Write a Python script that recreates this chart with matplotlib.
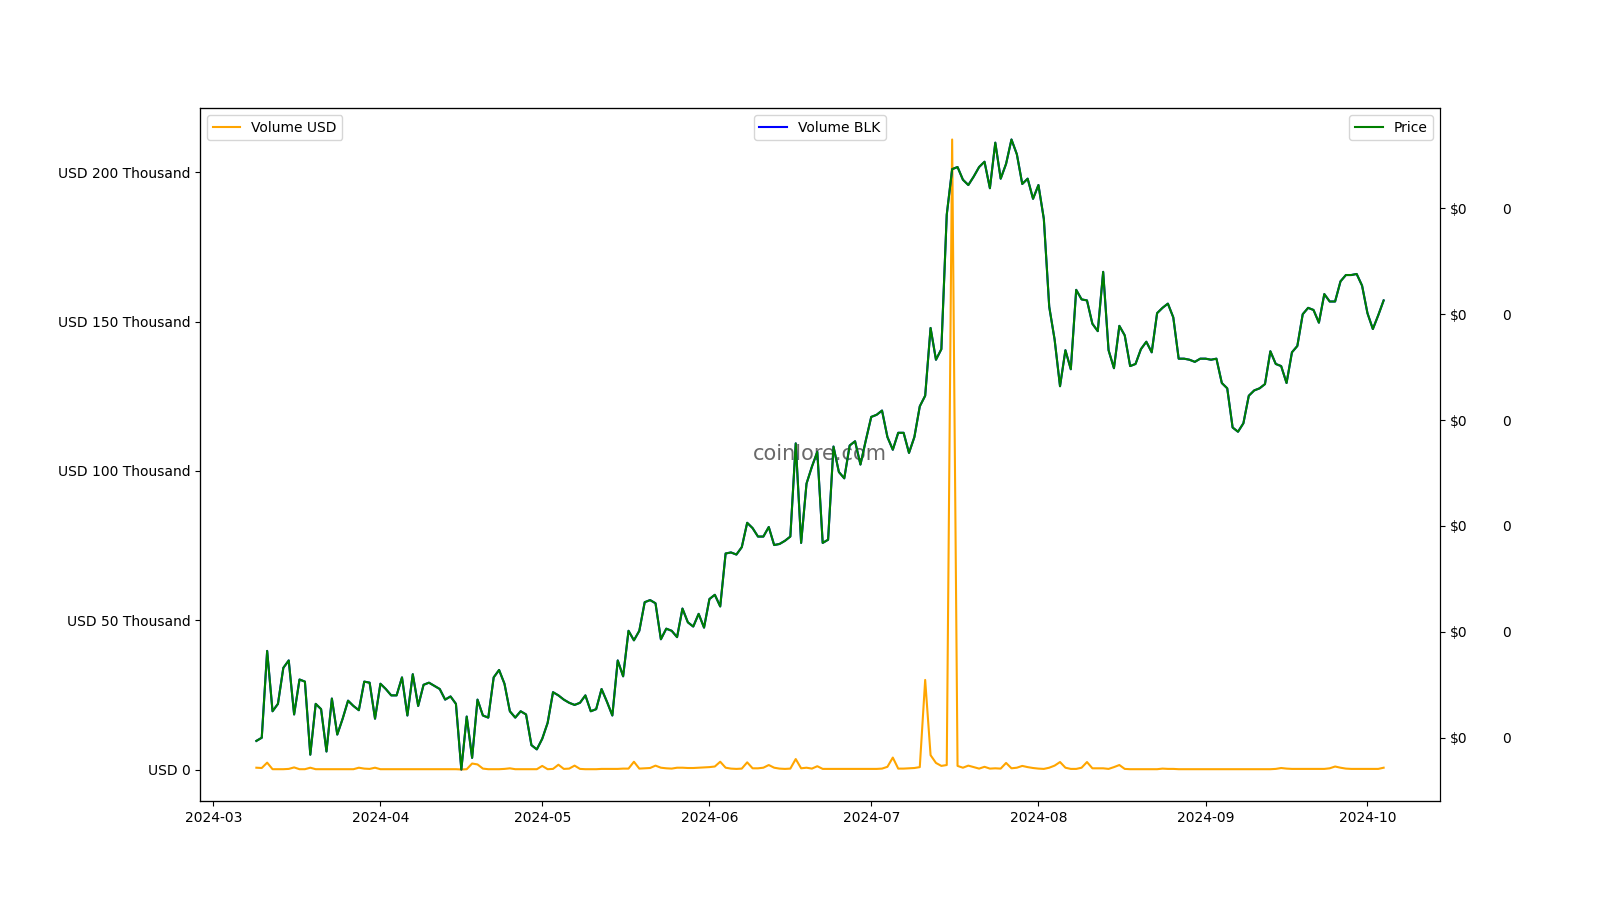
import numpy as np
import pandas as pd
import matplotlib
matplotlib.use("Agg")
import matplotlib.pyplot as plt
from matplotlib.ticker import FuncFormatter

# daily series, 2024-03-09 .. 2024-10-04
start_date = "2024-03-09"
end_date = "2024-10-04"

# price in units of 1e-7 USD (shows up as "$0" on the axis)
price = [
    0.97, 1.00, 1.82, 1.25, 1.32, 1.66, 1.73, 1.22, 1.55, 1.53,
    0.84, 1.32, 1.27, 0.87, 1.37, 1.03, 1.18, 1.35, 1.30, 1.26,
    1.53, 1.52, 1.18, 1.51, 1.46, 1.40, 1.40, 1.57, 1.21, 1.60,
    1.30, 1.50, 1.52, 1.49, 1.46, 1.36, 1.39, 1.32, 0.70, 1.20,
    0.81, 1.36, 1.21, 1.19, 1.57, 1.64, 1.51, 1.25, 1.19, 1.25,
    1.22, 0.93, 0.89, 0.99, 1.14, 1.43, 1.40, 1.36, 1.33, 1.31,
    1.33, 1.40, 1.25, 1.27, 1.46, 1.34, 1.21, 1.73, 1.58, 2.01,
    1.92, 2.01, 2.28, 2.30, 2.27, 1.93, 2.03, 2.01, 1.95, 2.22,
    2.09, 2.05, 2.17, 2.04, 2.31, 2.35, 2.24, 2.74, 2.75, 2.73,
    2.80, 3.03, 2.98, 2.90, 2.90, 2.99, 2.82, 2.83, 2.86, 2.90,
    3.78, 2.84, 3.40, 3.56, 3.70, 2.84, 2.87, 3.75, 3.51, 3.45,
    3.76, 3.80, 3.58, 3.81, 4.03, 4.05, 4.09, 3.84, 3.72, 3.88,
    3.88, 3.69, 3.84, 4.13, 4.23, 4.87, 4.57, 4.67, 5.94, 6.37,
    6.39, 6.27, 6.22, 6.30, 6.39, 6.44, 6.19, 6.62, 6.28, 6.42,
    6.65, 6.51, 6.23, 6.28, 6.09, 6.22, 5.90, 5.07, 4.76, 4.32,
    4.66, 4.48, 5.23, 5.14, 5.13, 4.91, 4.84, 5.40, 4.66, 4.49,
    4.89, 4.80, 4.51, 4.53, 4.67, 4.74, 4.64, 5.01, 5.06, 5.10,
    4.97, 4.58, 4.58, 4.57, 4.55, 4.58, 4.58, 4.57, 4.58, 4.35,
    4.30, 3.93, 3.89, 3.97, 4.23, 4.28, 4.30, 4.34, 4.65, 4.53,
    4.51, 4.35, 4.64, 4.70, 5.00, 5.06, 5.04, 4.92, 5.19, 5.12,
    5.12, 5.31, 5.37, 5.37, 5.38, 5.27, 5.01, 4.86, 4.99, 5.13,
]

# volume in thousand USD
volume_usd = [
    0.6, 0.5, 2.3, 0.1, 0.1, 0.1, 0.2, 0.7, 0.1, 0.1,
    0.6, 0.1, 0.1, 0.1, 0.1, 0.1, 0.1, 0.1, 0.1, 0.6,
    0.3, 0.2, 0.6, 0.1, 0.1, 0.1, 0.1, 0.1, 0.1, 0.1,
    0.1, 0.1, 0.1, 0.1, 0.1, 0.1, 0.1, 0.1, 0.0, 0.1,
    2.0, 1.7, 0.3, 0.1, 0.1, 0.1, 0.2, 0.4, 0.1, 0.1,
    0.1, 0.1, 0.1, 1.2, 0.1, 0.2, 1.6, 0.2, 0.3, 1.3,
    0.2, 0.1, 0.1, 0.1, 0.2, 0.2, 0.2, 0.2, 0.3, 0.3,
    2.6, 0.3, 0.4, 0.5, 1.3, 0.6, 0.4, 0.3, 0.6, 0.6,
    0.5, 0.5, 0.6, 0.7, 0.8, 1.0, 2.6, 0.6, 0.3, 0.2,
    0.3, 2.4, 0.4, 0.4, 0.6, 1.5, 0.6, 0.3, 0.2, 0.3,
    3.5, 0.4, 0.6, 0.3, 1.1, 0.2, 0.2, 0.2, 0.2, 0.2,
    0.2, 0.2, 0.2, 0.2, 0.2, 0.2, 0.3, 0.9, 4.0, 0.3,
    0.3, 0.4, 0.5, 0.8, 30.0, 4.8, 2.2, 1.2, 1.5, 211.0,
    1.2, 0.6, 1.3, 0.8, 0.3, 0.9, 0.3, 0.4, 0.3, 2.2,
    0.4, 0.6, 1.2, 0.8, 0.5, 0.3, 0.2, 0.6, 1.3, 2.5,
    0.6, 0.2, 0.2, 0.6, 2.5, 0.4, 0.4, 0.4, 0.2, 0.8,
    1.5, 0.2, 0.1, 0.1, 0.1, 0.1, 0.1, 0.1, 0.3, 0.2,
    0.2, 0.1, 0.1, 0.1, 0.1, 0.1, 0.1, 0.1, 0.1, 0.1,
    0.1, 0.1, 0.1, 0.1, 0.1, 0.1, 0.1, 0.1, 0.1, 0.2,
    0.5, 0.3, 0.2, 0.2, 0.2, 0.2, 0.2, 0.2, 0.2, 0.4,
    1.0, 0.6, 0.3, 0.2, 0.2, 0.2, 0.2, 0.2, 0.2, 0.6,
]

# BLK volume axis tracks the price series in the source (line hidden under price)
volume_blk = price

dates = pd.date_range(start_date, end_date, freq="D")

fig, ax = plt.subplots(figsize=(16, 9), dpi=100)
ax3 = ax.twinx()
ax2 = ax.twinx()

ax.plot(dates, np.array(volume_usd) * 1000, color="orange", label="Volume USD")
ax3.plot(dates, np.array(volume_blk) * 1e-7, color="blue", label="Volume BLK")
ax2.plot(dates, np.array(price) * 1e-7, color="green", label="Price")

ax.yaxis.set_major_formatter(FuncFormatter(
    lambda x, p: "USD 0" if x == 0 else f"USD {x / 1000:g} Thousand"))
ax2.yaxis.set_major_formatter(FuncFormatter(lambda x, p: f"${x:,.0f}"))
ax3.yaxis.set_major_formatter(FuncFormatter(lambda x, p: f"{x:,.0f}"))
ax3.spines["right"].set_visible(False)
ax3.tick_params(axis="y", length=0, pad=45)

ax.text(0.5, 0.5, "coinlore.com", transform=ax.transAxes, ha="center",
        va="center", fontsize=15, color="dimgray")

ax.legend(loc="upper left")
ax3.legend(loc="upper center")
ax2.legend(loc="upper right")

plt.savefig("out.png")
plt.close()
